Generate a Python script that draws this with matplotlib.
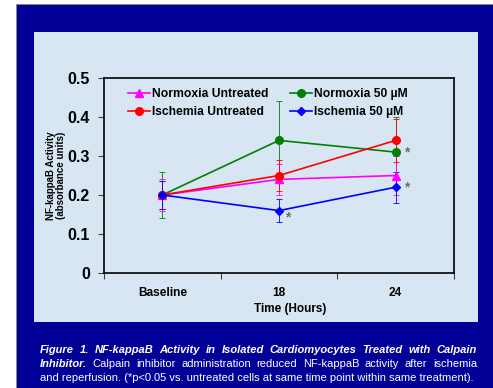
import matplotlib
matplotlib.use("Agg")
import matplotlib.pyplot as plt
from matplotlib.patches import Rectangle

plt.rcParams['font.family'] = ['Liberation Sans', 'DejaVu Sans']

# ---- data ----
time_labels = ["Baseline", "18", "24"]

normoxia_untreated = [0.20, 0.24, 0.25]
normoxia_untreated_err = [0.04, 0.04, 0.05]
ischemia_untreated = [0.20, 0.25, 0.34]
ischemia_untreated_err = [0.035, 0.04, 0.055]
normoxia_50 = [0.20, 0.34, 0.31]
normoxia_50_err = [0.06, 0.10, 0.09]
ischemia_50 = [0.20, 0.16, 0.22]
ischemia_50_err = [0.035, 0.03, 0.04]

# (series index, time index) carrying a significance mark
starred = [(2, 2), (3, 2), (3, 1)]

NAVY = '#000096'
PANEL = '#d8e6f3'

W, H = 493, 388
fig = plt.figure(figsize=(W / 100, H / 100), dpi=100)
fig.patch.set_facecolor('white')


def px_rect(x0, y0, x1, y1, **kw):
    return Rectangle((x0 / W, 1 - y1 / H), (x1 - x0) / W, (y1 - y0) / H,
                     transform=fig.transFigure, **kw)


fig.patches.append(px_rect(16, 4, 17, 388, facecolor='#888888', edgecolor='none', zorder=0))
fig.patches.append(px_rect(16, 4, 493, 5, facecolor='#888888', edgecolor='none', zorder=0))
fig.patches.append(px_rect(17, 5, 493, 388, facecolor=NAVY, edgecolor='none', zorder=0))
fig.patches.append(px_rect(34, 32, 478, 322, facecolor=PANEL, edgecolor='none', zorder=1))

ax = fig.add_axes([104 / W, 1 - 273 / H, (454 - 104) / W, (273 - 78) / H])
ax.set_facecolor(PANEL)
ax.set_zorder(2)

x = list(range(len(time_labels)))
series = [
    ("Normoxia Untreated", normoxia_untreated, normoxia_untreated_err, '#ff00ff', '^', 5.5),
    ("Ischemia Untreated", ischemia_untreated, ischemia_untreated_err, '#ff0000', 'o', 5.5),
    ("Normoxia 50 µM", normoxia_50, normoxia_50_err, '#008000', 'o', 5.5),
    ("Ischemia 50 µM", ischemia_50, ischemia_50_err, '#0000ff', 'D', 4.5),
]
draw_order = [2, 0, 1, 3]
handles = {}
for i in draw_order:
    label, y, err, color, marker, ms = series[i]
    ax.errorbar(x, y, yerr=err, color=color, ecolor=color, elinewidth=0.6, capsize=2,
                capthick=0.6, lw=0, zorder=3)
    h, = ax.plot(x, y, color=color, marker=marker, ms=ms, lw=1.2, label=label, zorder=4)
    handles[i] = h

for si, ti in starred:
    yv = series[si][1][ti]
    dx, dy = (8, 0) if ti == 2 else (6, -5)
    ax.annotate('*', (x[ti], yv), xytext=(dx, dy), textcoords='offset points',
                ha='center', va='center', fontsize=10, color='#707070', fontweight='bold')

ax.set_xlim(-0.5, 2.5)
ax.set_ylim(0, 0.5)
ax.set_yticks([0, 0.1, 0.2, 0.3, 0.4, 0.5])
ax.set_yticklabels(['0', '0.1', '0.2', '0.3', '0.4', '0.5'], fontsize=11.5, fontweight='bold')
ax.set_xticks([-0.5, 0.5, 1.5, 2.5])
ax.set_xticklabels([])
ax.tick_params(axis='both', direction='out', length=4, width=0.8, color='#404040')
ax.tick_params(axis='y', pad=6)
for lbl_x, lbl in zip(x, time_labels):
    ax.text(lbl_x, -0.035, lbl, ha='center', va='top', fontsize=8.6, fontweight='bold',
            transform=ax.transData)
for s in ax.spines.values():
    s.set_linewidth(1.2)
    s.set_color('black')

ax.set_ylabel('NF-kappaB Activity\n(absorbance units)', fontsize=7, fontweight='bold',
              linespacing=1.0, labelpad=1.5)

leg = ax.legend([handles[i] for i in range(4)], [series[i][0] for i in range(4)],
                ncol=2, loc='upper left', bbox_to_anchor=(0.04, 1.0), frameon=False,
                prop={'weight': 'bold', 'size': 8.7}, handlelength=1.8, handletextpad=0.15,
                columnspacing=1.8, labelspacing=0.5, borderaxespad=0.45)

fig.text(290 / W, 1 - 309 / H, 'Time (Hours)', ha='center', va='center',
         fontsize=8.5, fontweight='bold', zorder=3)

# caption, justified between x=40 and x=477 px
renderer = fig.canvas.get_renderer()


def justified_line(words, y_px, x0=40, x1=477):
    """words: list of (text, weight, style); spread them across the line."""
    texts = [fig.text(0, 1 - y_px / H, w, color='white', fontsize=8, fontweight=wt,
                      style=st, va='center') for w, wt, st in words]
    widths = [t.get_window_extent(renderer).width for t in texts]
    gap = (x1 - x0 - sum(widths)) / (len(texts) - 1)
    pos = x0
    for t, wd in zip(texts, widths):
        t.set_x(pos / W)
        pos += wd + gap


def words_of(s, wt='normal', st='normal'):
    return [(w, wt, st) for w in s.split()]


justified_line(words_of('Figure 1.  NF-kappaB Activity in Isolated Cardiomyocytes Treated with Calpain',
                        'bold', 'italic'), 350)
justified_line(words_of('Inhibitor.', 'bold', 'italic')
               + words_of('Calpain inhibitor administration reduced NF-kappaB activity after ischemia'), 364)
fig.text(40 / W, 1 - 378 / H,
         'and reperfusion. (*p<0.05 vs. untreated cells at same time point within same treatment).',
         color='white', fontsize=8, va='center')

fig.savefig('out.png', dpi=100, facecolor=fig.get_facecolor())
